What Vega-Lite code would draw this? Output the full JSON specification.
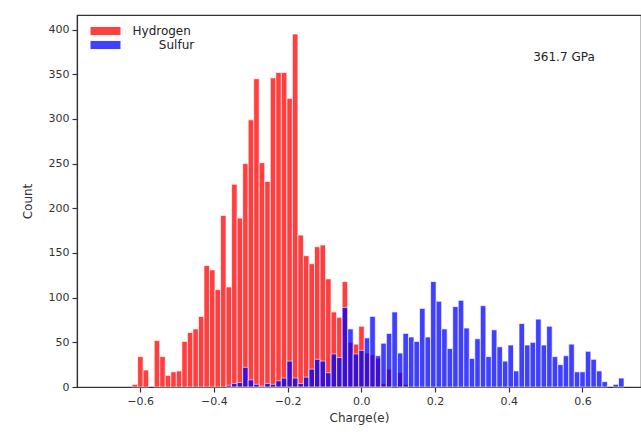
{
  "$schema": "https://vega.github.io/schema/vega-lite/v6.json",
  "width": 564,
  "height": 372,
  "autosize": {"type": "none"},
  "padding": {"left": 77, "top": 15, "right": 0, "bottom": 51},
  "background": "white",
  "config": {
    "font": "DejaVu Sans",
    "view": {"stroke": "#333333", "strokeWidth": 1.2},
    "axis": {
      "grid": false,
      "domainColor": "#333333",
      "domainWidth": 1.2,
      "tickColor": "#333333",
      "tickWidth": 1.2,
      "tickSize": 5,
      "labelColor": "#333333",
      "labelFontSize": 11,
      "labelFont": "DejaVu Sans",
      "titleFont": "DejaVu Sans",
      "titleFontSize": 12,
      "titleFontWeight": "normal",
      "titleColor": "#333333",
      "labelPadding": 3
    }
  },
  "datasets": {
    "bins": [
      {"element": "Hydrogen", "start": -0.622, "end": -0.607, "count": 3},
      {"element": "Hydrogen", "start": -0.607, "end": -0.592, "count": 34},
      {"element": "Hydrogen", "start": -0.592, "end": -0.577, "count": 19},
      {"element": "Hydrogen", "start": -0.562, "end": -0.547, "count": 52},
      {"element": "Hydrogen", "start": -0.547, "end": -0.532, "count": 34},
      {"element": "Hydrogen", "start": -0.532, "end": -0.517, "count": 13},
      {"element": "Hydrogen", "start": -0.517, "end": -0.502, "count": 17},
      {"element": "Hydrogen", "start": -0.502, "end": -0.487, "count": 18},
      {"element": "Hydrogen", "start": -0.487, "end": -0.472, "count": 51},
      {"element": "Hydrogen", "start": -0.472, "end": -0.457, "count": 61},
      {"element": "Hydrogen", "start": -0.457, "end": -0.442, "count": 65},
      {"element": "Hydrogen", "start": -0.442, "end": -0.427, "count": 79},
      {"element": "Hydrogen", "start": -0.427, "end": -0.412, "count": 136},
      {"element": "Hydrogen", "start": -0.412, "end": -0.397, "count": 131},
      {"element": "Hydrogen", "start": -0.397, "end": -0.382, "count": 109},
      {"element": "Hydrogen", "start": -0.382, "end": -0.367, "count": 192},
      {"element": "Hydrogen", "start": -0.367, "end": -0.352, "count": 112},
      {"element": "Hydrogen", "start": -0.352, "end": -0.337, "count": 227},
      {"element": "Hydrogen", "start": -0.337, "end": -0.322, "count": 189},
      {"element": "Hydrogen", "start": -0.322, "end": -0.307, "count": 250},
      {"element": "Hydrogen", "start": -0.307, "end": -0.292, "count": 299},
      {"element": "Hydrogen", "start": -0.292, "end": -0.277, "count": 345},
      {"element": "Hydrogen", "start": -0.277, "end": -0.262, "count": 251},
      {"element": "Hydrogen", "start": -0.262, "end": -0.247, "count": 230},
      {"element": "Hydrogen", "start": -0.247, "end": -0.232, "count": 346},
      {"element": "Hydrogen", "start": -0.232, "end": -0.217, "count": 352},
      {"element": "Hydrogen", "start": -0.217, "end": -0.202, "count": 352},
      {"element": "Hydrogen", "start": -0.202, "end": -0.187, "count": 323},
      {"element": "Hydrogen", "start": -0.187, "end": -0.172, "count": 395},
      {"element": "Hydrogen", "start": -0.172, "end": -0.157, "count": 170},
      {"element": "Hydrogen", "start": -0.157, "end": -0.142, "count": 147},
      {"element": "Hydrogen", "start": -0.142, "end": -0.127, "count": 138},
      {"element": "Hydrogen", "start": -0.127, "end": -0.112, "count": 157},
      {"element": "Hydrogen", "start": -0.112, "end": -0.097, "count": 159},
      {"element": "Hydrogen", "start": -0.097, "end": -0.082, "count": 121},
      {"element": "Hydrogen", "start": -0.082, "end": -0.067, "count": 84},
      {"element": "Hydrogen", "start": -0.067, "end": -0.052, "count": 78},
      {"element": "Hydrogen", "start": -0.052, "end": -0.037, "count": 118},
      {"element": "Hydrogen", "start": -0.037, "end": -0.022, "count": 50},
      {"element": "Hydrogen", "start": -0.022, "end": -0.007, "count": 48},
      {"element": "Hydrogen", "start": -0.007, "end": 0.008, "count": 68},
      {"element": "Hydrogen", "start": 0.008, "end": 0.023, "count": 38},
      {"element": "Hydrogen", "start": 0.023, "end": 0.038, "count": 36},
      {"element": "Hydrogen", "start": 0.038, "end": 0.053, "count": 32},
      {"element": "Hydrogen", "start": 0.053, "end": 0.068, "count": 4},
      {"element": "Hydrogen", "start": 0.068, "end": 0.083, "count": 20},
      {"element": "Hydrogen", "start": 0.098, "end": 0.113, "count": 16},
      {"element": "Hydrogen", "start": 0.113, "end": 0.128, "count": 3},
      {"element": "Sulfur", "start": -0.367, "end": -0.352, "count": 2},
      {"element": "Sulfur", "start": -0.352, "end": -0.337, "count": 4},
      {"element": "Sulfur", "start": -0.337, "end": -0.322, "count": 5},
      {"element": "Sulfur", "start": -0.322, "end": -0.307, "count": 22},
      {"element": "Sulfur", "start": -0.307, "end": -0.292, "count": 8},
      {"element": "Sulfur", "start": -0.292, "end": -0.277, "count": 3},
      {"element": "Sulfur", "start": -0.277, "end": -0.262, "count": 1},
      {"element": "Sulfur", "start": -0.262, "end": -0.247, "count": 4},
      {"element": "Sulfur", "start": -0.247, "end": -0.232, "count": 3},
      {"element": "Sulfur", "start": -0.232, "end": -0.217, "count": 7},
      {"element": "Sulfur", "start": -0.217, "end": -0.202, "count": 10},
      {"element": "Sulfur", "start": -0.202, "end": -0.187, "count": 29},
      {"element": "Sulfur", "start": -0.187, "end": -0.172, "count": 10},
      {"element": "Sulfur", "start": -0.172, "end": -0.157, "count": 4},
      {"element": "Sulfur", "start": -0.157, "end": -0.142, "count": 11},
      {"element": "Sulfur", "start": -0.142, "end": -0.127, "count": 20},
      {"element": "Sulfur", "start": -0.127, "end": -0.112, "count": 31},
      {"element": "Sulfur", "start": -0.112, "end": -0.097, "count": 29},
      {"element": "Sulfur", "start": -0.097, "end": -0.082, "count": 16},
      {"element": "Sulfur", "start": -0.082, "end": -0.067, "count": 37},
      {"element": "Sulfur", "start": -0.067, "end": -0.052, "count": 33},
      {"element": "Sulfur", "start": -0.052, "end": -0.037, "count": 89},
      {"element": "Sulfur", "start": -0.037, "end": -0.022, "count": 65},
      {"element": "Sulfur", "start": -0.022, "end": -0.007, "count": 37},
      {"element": "Sulfur", "start": -0.007, "end": 0.008, "count": 41},
      {"element": "Sulfur", "start": 0.008, "end": 0.023, "count": 55},
      {"element": "Sulfur", "start": 0.023, "end": 0.038, "count": 79},
      {"element": "Sulfur", "start": 0.038, "end": 0.053, "count": 35},
      {"element": "Sulfur", "start": 0.053, "end": 0.068, "count": 49},
      {"element": "Sulfur", "start": 0.068, "end": 0.083, "count": 60},
      {"element": "Sulfur", "start": 0.083, "end": 0.098, "count": 84},
      {"element": "Sulfur", "start": 0.098, "end": 0.113, "count": 38},
      {"element": "Sulfur", "start": 0.113, "end": 0.128, "count": 60},
      {"element": "Sulfur", "start": 0.128, "end": 0.143, "count": 56},
      {"element": "Sulfur", "start": 0.143, "end": 0.158, "count": 51},
      {"element": "Sulfur", "start": 0.158, "end": 0.173, "count": 88},
      {"element": "Sulfur", "start": 0.173, "end": 0.188, "count": 56},
      {"element": "Sulfur", "start": 0.188, "end": 0.203, "count": 118},
      {"element": "Sulfur", "start": 0.203, "end": 0.218, "count": 96},
      {"element": "Sulfur", "start": 0.218, "end": 0.233, "count": 65},
      {"element": "Sulfur", "start": 0.233, "end": 0.248, "count": 43},
      {"element": "Sulfur", "start": 0.248, "end": 0.263, "count": 90},
      {"element": "Sulfur", "start": 0.263, "end": 0.278, "count": 97},
      {"element": "Sulfur", "start": 0.278, "end": 0.293, "count": 66},
      {"element": "Sulfur", "start": 0.293, "end": 0.308, "count": 32},
      {"element": "Sulfur", "start": 0.308, "end": 0.323, "count": 54},
      {"element": "Sulfur", "start": 0.323, "end": 0.338, "count": 91},
      {"element": "Sulfur", "start": 0.338, "end": 0.353, "count": 34},
      {"element": "Sulfur", "start": 0.353, "end": 0.368, "count": 64},
      {"element": "Sulfur", "start": 0.368, "end": 0.383, "count": 45},
      {"element": "Sulfur", "start": 0.383, "end": 0.398, "count": 29},
      {"element": "Sulfur", "start": 0.398, "end": 0.413, "count": 47},
      {"element": "Sulfur", "start": 0.413, "end": 0.428, "count": 18},
      {"element": "Sulfur", "start": 0.428, "end": 0.443, "count": 71},
      {"element": "Sulfur", "start": 0.443, "end": 0.458, "count": 47},
      {"element": "Sulfur", "start": 0.458, "end": 0.473, "count": 50},
      {"element": "Sulfur", "start": 0.473, "end": 0.488, "count": 76},
      {"element": "Sulfur", "start": 0.488, "end": 0.503, "count": 47},
      {"element": "Sulfur", "start": 0.503, "end": 0.518, "count": 68},
      {"element": "Sulfur", "start": 0.518, "end": 0.533, "count": 34},
      {"element": "Sulfur", "start": 0.533, "end": 0.548, "count": 25},
      {"element": "Sulfur", "start": 0.548, "end": 0.563, "count": 35},
      {"element": "Sulfur", "start": 0.563, "end": 0.578, "count": 48},
      {"element": "Sulfur", "start": 0.578, "end": 0.593, "count": 17},
      {"element": "Sulfur", "start": 0.593, "end": 0.608, "count": 17},
      {"element": "Sulfur", "start": 0.608, "end": 0.623, "count": 40},
      {"element": "Sulfur", "start": 0.623, "end": 0.638, "count": 31},
      {"element": "Sulfur", "start": 0.638, "end": 0.653, "count": 18},
      {"element": "Sulfur", "start": 0.653, "end": 0.668, "count": 6},
      {"element": "Sulfur", "start": 0.683, "end": 0.698, "count": 3},
      {"element": "Sulfur", "start": 0.698, "end": 0.713, "count": 10}
    ],
    "note": [{"x": 0.55, "y": 369, "label": "361.7 GPa"}]
  },
  "layer": [
    {
      "data": {"name": "bins"},
      "mark": {"type": "bar", "opacity": 0.75, "stroke": "white", "strokeWidth": 0.7},
      "encoding": {
        "x": {
          "field": "start",
          "type": "quantitative",
          "scale": {"domain": [-0.7715, 0.759], "nice": false, "zero": false},
          "axis": {"values": [-0.6, -0.4, -0.2, 0, 0.2, 0.4, 0.6], "format": ".1f", "title": "Charge(e)", "titlePadding": 6}
        },
        "x2": {"field": "end"},
        "y": {
          "field": "count",
          "type": "quantitative",
          "scale": {"domain": [0, 416.3], "nice": false},
          "axis": {"values": [0, 50, 100, 150, 200, 250, 300, 350, 400], "title": "Count", "titlePadding": 14}
        },
        "y2": {"datum": 0},
        "color": {
          "field": "element",
          "type": "nominal",
          "scale": {"domain": ["Hydrogen", "Sulfur"], "range": ["#ff0000", "#0000ff"]},
          "legend": {
            "title": null,
            "orient": "none",
            "legendX": 21,
            "legendY": 8.5,
            "padding": 0,
            "rowPadding": 0,
            "symbolType": "M-2,-0.54H2V0.54H-2Z",
            "symbolSize": 225,
            "symbolStrokeWidth": 0,
            "symbolOpacity": 0.75,
            "labelOffset": 19.5,
            "labelFontSize": 12,
            "labelFont": "DejaVu Sans",
            "labelColor": "#222222",
            "labelExpr": "datum.value === 'Sulfur' ? '\u2800\u2800\u2800Sulfur' : datum.label"
          }
        }
      }
    },
    {
      "data": {"name": "note"},
      "mark": {"type": "text", "fontSize": 12, "font": "DejaVu Sans", "color": "#222222", "align": "center", "baseline": "middle"},
      "encoding": {
        "x": {"field": "x", "type": "quantitative"},
        "y": {"field": "y", "type": "quantitative"},
        "text": {"field": "label"}
      }
    }
  ]
}
